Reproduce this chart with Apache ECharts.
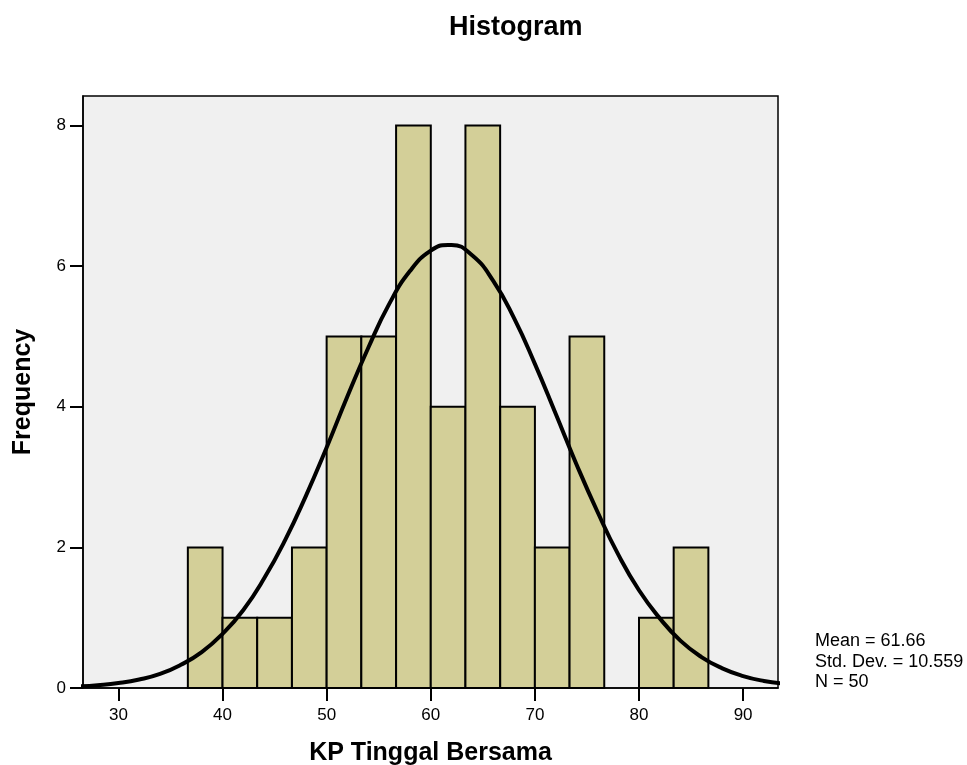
<!DOCTYPE html>
<html>
<head>
<meta charset="utf-8">
<script src="https://cdn.jsdelivr.net/npm/echarts@6/dist/echarts.min.js"></script>
<style>
  html, body { margin: 0; padding: 0; background: #fff; }
  #main { width: 967px; height: 765px; }
</style>
</head>
<body>
<div id="main"></div>
<script>
// histogram bins (lower edge), counts, bin width
var binStarts = [36.67, 40.00, 43.33, 46.67, 50.00, 53.33, 56.67, 60.00, 63.33, 66.67, 70.00, 73.33, 76.67, 80.00, 83.33];
var binCounts = [2, 1, 1, 2, 5, 5, 8, 4, 8, 4, 2, 5, 0, 1, 2];
var binWidth = 3.333;

// normal curve
var curveX = [26, 28, 30, 32, 34, 36, 38, 40, 42, 44, 46, 48, 50, 52, 54, 56, 58, 60, 61.66, 62, 64, 66, 68, 70, 72, 74, 76, 78, 80, 82, 84, 86, 88, 90, 92, 94];
var curveY = [0.02, 0.04, 0.07, 0.12, 0.20, 0.33, 0.51, 0.77, 1.11, 1.56, 2.10, 2.73, 3.42, 4.15, 4.84, 5.46, 5.93, 6.22, 6.30, 6.30, 6.15, 5.79, 5.26, 4.61, 3.90, 3.18, 2.51, 1.90, 1.39, 0.99, 0.67, 0.44, 0.28, 0.17, 0.10, 0.06];

var xTicks = [30, 40, 50, 60, 70, 80, 90];
var yTicks = [0, 2, 4, 6, 8];
var statsLines = ['Mean = 61.66', 'Std. Dev. = 10.559', 'N = 50'];

var chart = echarts.init(document.getElementById('main'));

var barData = [];
for (var i = 0; i < binStarts.length; i++) {
    if (binCounts[i] > 0) barData.push([binStarts[i], binStarts[i] + binWidth, binCounts[i]]);
}
var lineData = [];
for (var j = 0; j < curveX.length; j++) lineData.push([curveX[j], curveY[j]]);

var fontFam = 'Liberation Sans, Arial, sans-serif';

var option = {
    backgroundColor: '#fff',
    animation: false,
    title: {
        text: 'Histogram',
        left: 449,
        top: 14,
        padding: 0,
        textStyle: { fontFamily: fontFam, fontSize: 27, fontWeight: 'bold', color: '#000' }
    },
    grid: {
        left: 83, right: 189, top: 96, bottom: 77,
        outerBoundsMode: 'none',
        show: true,
        backgroundColor: '#f0f0f0',
        borderColor: '#000',
        borderWidth: 1.5
    },
    xAxis: {
        type: 'value',
        min: 26.6,
        max: 93.35,
        name: 'KP Tinggal Bersama',
        nameLocation: 'middle',
        nameGap: 53,
        nameTextStyle: { fontFamily: fontFam, fontSize: 25, fontWeight: 'bold', color: '#000' },
        splitLine: { show: false },
        axisLine: { lineStyle: { color: '#000', width: 1.5 } },
        axisTick: { show: true, length: 13, lineStyle: { color: '#000', width: 2 }, customValues: xTicks },
        axisLabel: { margin: 19, fontFamily: fontFam, fontSize: 17, color: '#000', customValues: xTicks }
    },
    yAxis: {
        type: 'value',
        min: 0,
        max: 8.42,
        name: 'Frequency',
        nameLocation: 'middle',
        nameGap: 47,
        nameTextStyle: { fontFamily: fontFam, fontSize: 25, fontWeight: 'bold', color: '#000' },
        splitLine: { show: false },
        axisLine: { show: true, lineStyle: { color: '#000', width: 1.5 } },
        axisTick: { show: true, length: 13, lineStyle: { color: '#000', width: 2 }, customValues: yTicks },
        axisLabel: { margin: 17, fontFamily: fontFam, fontSize: 17, color: '#000', customValues: yTicks }
    },
    graphic: [{
        type: 'text',
        left: 815,
        top: 631,
        style: {
            text: statsLines.join('\n'),
            font: '18px ' + fontFam,
            lineHeight: 20.5,
            fill: '#000'
        }
    }],
    series: [
        {
            type: 'custom',
            data: barData,
            renderItem: function (params, api) {
                var p0 = api.coord([api.value(0), api.value(2)]);
                var p1 = api.coord([api.value(1), 0]);
                return {
                    type: 'rect',
                    shape: { x: p0[0], y: p0[1], width: p1[0] - p0[0], height: p1[1] - p0[1] },
                    style: { fill: '#d3cf98', stroke: '#000', lineWidth: 2 }
                };
            },
            z: 2
        },
        {
            type: 'line',
            data: lineData,
            smooth: true,
            showSymbol: false,
            lineStyle: { color: '#000', width: 4 },
            z: 3
        }
    ]
};
chart.setOption(option);
</script>
</body>
</html>
